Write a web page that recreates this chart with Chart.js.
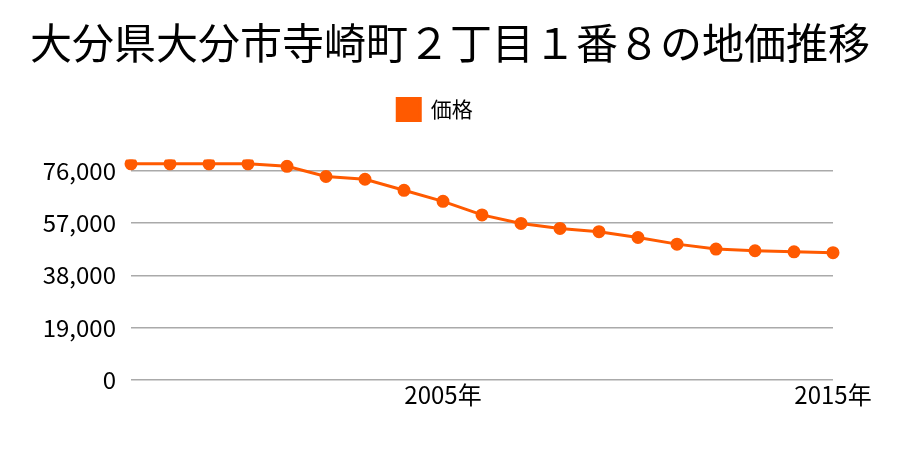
<!DOCTYPE html>
<html>
<head>
<meta charset="utf-8">
<script src="https://cdn.jsdelivr.net/npm/chart.js@4"></script>
<style>
  html, body { margin: 0; padding: 0; background: #fff; }
  #wrap { width: 900px; height: 450px; }
</style>
</head>
<body>
<div id="wrap"><canvas id="priceChart"></canvas></div>
<script>
// 価格データ
const years = ['1997', '1998', '1999', '2000', '2001', '2002', '2003', '2004', '2005', '2006',
               '2007', '2008', '2009', '2010', '2011', '2012', '2013', '2014', '2015'];
const prices = [78400, 78400, 78400, 78400, 77500, 73800, 72800, 68800, 64800, 59900,
                56800, 55000, 53800, 51700, 49300, 47500, 46900, 46500, 46200];
const yTicks = [0, 19000, 38000, 57000, 76000];
const shownYears = ['2005', '2015'];

const font = "'Noto Sans CJK JP', 'Noto Sans', sans-serif";
const orange = '#ff5a00';

// legend sits a little left of centre in the original
const legendShift = {
    id: 'legendShift',
    afterLayout(chart) {
        const lg = chart.legend;
        if (!lg) return;
        lg.left -= 15;
        lg.right -= 15;
        if (lg.adjustHitBoxes) lg.adjustHitBoxes();
    }
};

document.addEventListener('DOMContentLoaded', () => {
    const ctx = document.getElementById('priceChart').getContext('2d');
    new Chart(ctx, {
        type: 'line',
        data: {
            labels: years,
            datasets: [{
                label: '価格',
                data: prices,
                borderColor: orange,
                backgroundColor: orange,
                borderWidth: 3,
                pointRadius: 5,
                pointHoverRadius: 5,
                tension: 0
            }]
        },
        plugins: [legendShift],
        options: {
            responsive: true,
            maintainAspectRatio: false,
            animation: false,
            layout: { padding: { left: 0, right: 0, top: 0, bottom: 41 } },
            plugins: {
                title: {
                    display: true,
                    text: '大分県大分市寺崎町２丁目１番８の地価推移',
                    color: '#000',
                    font: { family: font, size: 42, weight: 'normal' },
                    padding: { top: 18, bottom: 20 }
                },
                // spacer between legend and plot
                subtitle: {
                    display: true,
                    text: '',
                    weight: 500,
                    font: { size: 10, lineHeight: 1 },
                    padding: { top: 19, bottom: 0 }
                },
                legend: {
                    labels: {
                        color: '#000',
                        font: { family: font, size: 21 },
                        boxWidth: 23,
                        boxHeight: 22,
                        padding: 10
                    }
                },
                tooltip: { enabled: false }
            },
            scales: {
                x: {
                    offset: false,
                    grid: { display: false, drawTicks: false },
                    border: { display: false },
                    ticks: {
                        color: '#000',
                        font: { family: font, size: 24 },
                        autoSkip: false,
                        maxRotation: 0,
                        padding: 0,
                        callback: function (v) {
                            const y = this.getLabelForValue(v);
                            return shownYears.includes(y) ? y + '年' : '';
                        }
                    }
                },
                y: {
                    min: 0,
                    max: 80000,
                    afterFit: (s) => { s.width = 131; },
                    afterBuildTicks: (s) => { s.ticks = yTicks.map(v => ({ value: v })); },
                    grid: { color: '#aaaaaa', lineWidth: 1.5, drawTicks: false },
                    border: { display: false },
                    ticks: {
                        color: '#000',
                        padding: 15,
                        font: { family: font, size: 24 },
                        callback: (v) => v.toLocaleString('en-US')
                    }
                },
                // empty right-hand margin so the title stays centred on the page
                yRight: {
                    position: 'right',
                    display: true,
                    afterFit: (s) => { s.width = 67; },
                    grid: { display: false, drawTicks: false },
                    border: { display: false },
                    ticks: { display: false }
                }
            }
        }
    });
});
</script>
</body>
</html>
